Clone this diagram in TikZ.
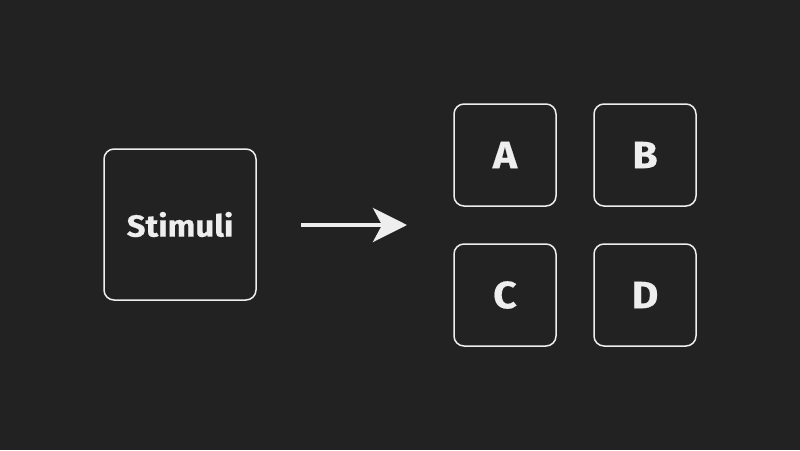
\documentclass[tikz,border=0pt]{standalone}
\usepackage{fontspec}
\newfontfamily\hfont[BoldFeatures={FakeBold=0.5,FakeStretch=1.08}]{Fira Sans}
\usetikzlibrary{arrows.meta}
\definecolor{bg}{HTML}{222222}
\definecolor{fg}{HTML}{EEEEEE}
\begin{document}
\begin{tikzpicture}[x=1pt,y=-1pt,
  box/.style={draw=fg, line width=1.5pt, rounded corners=10pt, text=fg, font=\hfont\bfseries\fontsize{38}{40}\selectfont, inner sep=0pt},
  big/.style={box, minimum width=152pt, minimum height=151pt, font=\hfont\bfseries\fontsize{30.5}{32}\selectfont},
  small/.style={box, minimum width=102pt, minimum height=102pt},
  conn/.style={draw=fg, line width=4pt, -{Stealth[length=34pt,width=34pt,inset=9pt]}}]
\fill[bg] (0,0) rectangle (800,450);
\useasboundingbox (0,0) rectangle (800,450);
\node[big] (stim) at (180,224.5) {Stimuli};
\node[small] (a) at (505,155) {A};
\node[small] (b) at (645,155) {B};
\node[small] (c) at (505,295) {C};
\node[small] (d) at (645,295) {D};
\coordinate (s) at (301,225);
\coordinate (e) at (407,225);
\draw[conn] (s) -- (e);
\end{tikzpicture}
\end{document}
